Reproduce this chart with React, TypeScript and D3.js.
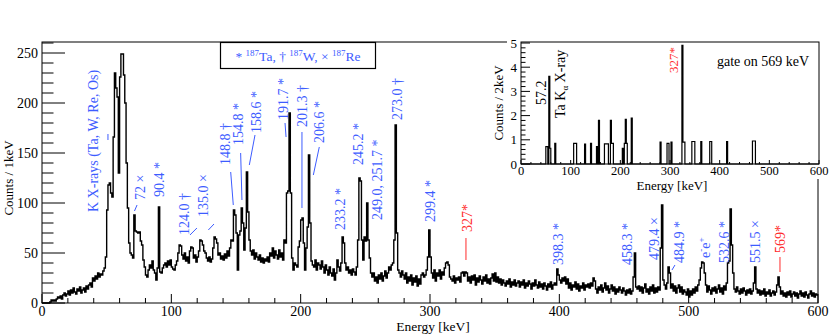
import React, { useEffect, useRef } from "react";
import * as d3 from "d3";

// singles spectrum, 1 keV bins starting at 0 keV
const counts: number[] = [
  // 0
  0, 0, 0, 0, 0, 0, 1, 3, 2, 3,
  2, 4, 6, 5, 7, 4, 8, 10, 7, 9,
  12, 8, 13, 10, 15, 11, 9, 14, 12, 16,
  10, 13, 15, 11, 17, 14, 18, 20, 16, 25,
  22, 27, 24, 30, 26, 29, 28, 32, 35, 46,
  // 50
  93, 118, 120, 110, 106, 166, 230, 215, 206, 130,
  226, 249, 249, 228, 200, 140, 95, 60, 50, 48,
  45, 88, 72, 71, 70, 71, 62, 58, 43, 36,
  28, 26, 33, 38, 35, 42, 33, 30, 23, 35,
  96, 31, 30, 35, 38, 40, 36, 42, 38, 43,
  // 100
  36, 34, 33, 38, 42, 50, 58, 57, 48, 44,
  50, 42, 46, 40, 52, 56, 55, 45, 48, 41,
  46, 52, 63, 62, 58, 52, 50, 45, 42, 46,
  41, 44, 55, 66, 64, 60, 48, 50, 44, 47,
  43, 49, 45, 52, 47, 55, 63, 62, 93, 88,
  // 150
  70, 33, 68, 72, 95, 80, 53, 75, 131, 91,
  63, 52, 48, 53, 44, 50, 46, 43, 48, 41,
  45, 40, 44, 42, 46, 41, 50, 47, 55, 45,
  52, 48, 44, 53, 46, 50, 43, 63, 60, 110,
  112, 190, 110, 45, 33, 40, 38, 36, 56, 62,
  // 200
  83, 85, 60, 33, 55, 76, 148, 80, 42, 38,
  36, 43, 33, 40, 38, 34, 42, 36, 30, 38,
  33, 28, 36, 30, 27, 34, 23, 30, 43, 36,
  32, 40, 66, 60, 40, 33, 36, 30, 33, 28,
  34, 31, 28, 36, 63, 125, 122, 63, 43, 66,
  // 250
  62, 100, 63, 45, 30, 26, 30, 22, 26, 20,
  28, 24, 30, 22, 27, 32, 25, 30, 36, 33,
  38, 40, 63, 178, 70, 33, 30, 26, 32, 28,
  24, 30, 20, 26, 22, 28, 18, 25, 21, 27,
  17, 24, 19, 28, 30, 26, 28, 33, 46, 73,
  // 300
  46, 30, 25, 33, 22, 30, 27, 33, 24, 31,
  28, 35, 40, 41, 38, 26, 24, 22, 27, 20,
  25, 23, 26, 21, 30, 31, 27, 31, 30, 22,
  26, 20, 27, 23, 28, 18, 25, 21, 27, 23,
  19, 26, 22, 28, 20, 24, 19, 25, 29, 22,
  // 350
  30, 21, 26, 20, 24, 18, 23, 20, 17, 22,
  19, 24, 16, 21, 18, 23, 17, 20, 22, 16,
  21, 18, 23, 15, 20, 17, 22, 19, 14, 20,
  17, 23, 18, 15, 21, 16, 19, 14, 20, 17,
  13, 19, 16, 21, 14, 18, 20, 18, 34, 28,
  // 400
  23, 20, 25, 22, 26, 19, 24, 15, 20, 13,
  18, 16, 21, 14, 19, 12, 17, 15, 20, 13,
  18, 16, 19, 15, 20, 17, 25, 22, 14, 10,
  16, 13, 18, 11, 15, 20, 13, 17, 10, 14,
  18, 12, 16, 9, 14, 11, 16, 13, 10, 15,
  // 450
  12, 8, 13, 10, 14, 9, 12, 26, 50, 16,
  14, 17, 12, 16, 10, 15, 19, 11, 14, 9,
  16, 12, 18, 10, 15, 11, 16, 13, 55, 98,
  23, 18, 14, 20, 36, 30, 15, 19, 12, 17,
  10, 15, 18, 11, 16, 9, 13, 11, 8, 14,
  // 500
  6, 12, 8, 14, 10, 16, 12, 18, 23, 35,
  41, 40, 30, 18, 11, 17, 13, 9, 15, 12,
  16, 10, 14, 18, 11, 15, 9, 17, 13, 20,
  40, 42, 94, 58, 30, 14, 11, 16, 12, 9,
  14, 10, 15, 12, 8, 13, 10, 14, 9, 12,
  // 550
  20, 36, 14, 10, 13, 8, 12, 9, 14, 7,
  11, 9, 13, 7, 10, 12, 8, 11, 18, 26,
  16, 9, 12, 7, 10, 6, 11, 8, 12, 6,
  9, 11, 7, 10, 5, 9, 12, 7, 10, 6,
  11, 8, 5, 9, 12, 7, 10, 6, 9, 8,
];

// gated spectrum (gate on 569 keV), 2 keV bins, non-empty bins only
const gateBins = [
  50, 52, 56, 58, 68, 106, 108, 110, 128, 140, 152, 156, 168, 170, 172, 174,
  180, 182, 184, 204, 208, 210, 212, 222, 280, 294, 296, 302, 324, 326, 328,
  344, 346, 348, 362, 380, 382, 414, 466, 468, 470,
];
const gateValues = [
  0.72, 0.72, 3.62, 0.65, 0.85, 0.85, 0.85, 0.85, 0.82, 0.85, 0.72, 1.8, 0.83,
  0.83, 0.83, 0.83, 1.8, 0.85, 0.85, 0.65, 0.85, 1.85, 0.85, 1.9, 0.9, 0.85,
  0.85, 0.9, 4.9, 0.9, 0.9, 0.93, 0.93, 0.93, 0.93, 0.93, 0.93, 0.93, 0.95,
  0.95, 0.95,
];

const energyTicks = [0, 100, 200, 300, 400, 500, 600];
const countTicks = [0, 50, 100, 150, 200, 250];
const gateTicks = [0, 1, 2, 3, 4, 5];

const BLUE = "#3d5cff";
const RED = "#ff2b2b";
const FONT = "'Liberation Serif', 'Times New Roman', serif";

// peak labels: e = keV, c = counts at the lower end of the rotated text
const peakLabels = [
  { t: "K X-rays (Ta, W, Re, Os)", e: 39.4, c: 91, col: BLUE },
  { t: "72 ×", e: 75.8, c: 103, col: BLUE },
  { t: "90.4 *", e: 90.5, c: 106, col: BLUE },
  { t: "124.0 †", e: 109.8, c: 68, col: BLUE },
  { t: "135.0 ×", e: 124.5, c: 86, col: BLUE },
  { t: "148.8 †", e: 141.9, c: 138, col: BLUE },
  { t: "154.8 *", e: 151.9, c: 158, col: BLUE },
  { t: "158.6 *", e: 165.5, c: 170, col: BLUE },
  { t: "191.7 *", e: 186.3, c: 183, col: BLUE },
  { t: "201.3 †", e: 201.4, c: 176, col: BLUE },
  { t: "206.6 *", e: 214.2, c: 160, col: BLUE },
  { t: "233.2 *", e: 230.8, c: 73, col: BLUE },
  { t: "245.2 *", e: 244.7, c: 138, col: BLUE },
  { t: "249.0, 251.7 *", e: 259, c: 83, col: BLUE },
  { t: "273.0 †", e: 274.5, c: 183, col: BLUE },
  { t: "299.4 *", e: 300, c: 81, col: BLUE },
  { t: "327*", e: 328.6, c: 71, col: RED },
  { t: "398.3 *", e: 399, c: 38, col: BLUE },
  { t: "458.3 *", e: 453, c: 38, col: BLUE },
  { t: "479.4 ×", e: 473.2, c: 43, col: BLUE },
  { t: "484.9 *", e: 492.5, c: 40, col: BLUE },
  { t: "532.6 *", e: 527.3, c: 40, col: BLUE },
  { t: "551.5 ×", e: 551.3, c: 40, col: BLUE },
  { t: "569*", e: 570.6, c: 50, col: RED },
];

const leaders = [
  { e1: 51.0, c1: 169, e2: 51.0, c2: 163, col: BLUE },
  { e1: 71.5, c1: 92, e2: 73.5, c2: 98, col: BLUE },
  { e1: 114.4, c1: 68, e2: 119.8, c2: 75, col: BLUE },
  { e1: 128.6, c1: 73, e2: 133, c2: 79, col: BLUE },
  { e1: 145.9, c1: 131, e2: 147.9, c2: 98, col: BLUE },
  { e1: 153.6, c1: 150, e2: 154.6, c2: 103, col: BLUE },
  { e1: 164.7, c1: 168, e2: 160.3, c2: 138, col: BLUE },
  { e1: 187.9, c1: 180, e2: 188.7, c2: 166, col: BLUE },
  { e1: 201, c1: 171, e2: 201, c2: 95, col: BLUE },
  { e1: 214.4, c1: 156, e2: 209.8, c2: 128, col: BLUE },
  { e1: 327.8, c1: 65, e2: 327.8, c2: 43, col: RED },
  { e1: 487.1, c1: 33, e2: 489.4, c2: 38, col: BLUE },
  { e1: 570.6, c1: 46, e2: 570.6, c2: 31, col: RED },
];

export default function App() {
  const ref = useRef<SVGSVGElement>(null);

  useEffect(() => {
    const svg = d3.select(ref.current);
    svg.selectAll("*").remove();
    svg.style("font-family", FONT);

    const x = d3.scaleLinear().domain([0, 600]).range([42, 818]);
    const y = d3.scaleLinear().domain([0, 261]).range([303, 42]);

    const g = svg.append("g");

    // histogram
    const pts: [number, number][] = counts.map((c, i) => [i, c]);
    pts.push([600, counts[counts.length - 1]]);
    const line = d3
      .line<[number, number]>()
      .x((d) => x(d[0]))
      .y((d) => y(d[1]))
      .curve(d3.curveStepAfter);
    g.append("path")
      .attr("d", line(pts))
      .attr("fill", "none")
      .attr("stroke", "#000")
      .attr("stroke-width", 1.4);

    // frame
    g.append("rect")
      .attr("x", x(0))
      .attr("y", y(261))
      .attr("width", x(600) - x(0))
      .attr("height", y(0) - y(261))
      .attr("fill", "none")
      .attr("stroke", "#000");

    // y ticks
    d3.range(0, 261, 10).forEach((v) => {
      const major = v % 50 === 0;
      g.append("line")
        .attr("x1", x(0))
        .attr("x2", x(0) + (major ? 23 : 11.5))
        .attr("y1", y(v))
        .attr("y2", y(v))
        .attr("stroke", "#000");
    });
    countTicks.forEach((v) => {
      g.append("text")
        .attr("x", x(0) - 4)
        .attr("y", y(v) + 5)
        .attr("text-anchor", "end")
        .attr("font-size", 14)
        .text(v);
    });

    // x ticks
    d3.range(0, 601, 20).forEach((v) => {
      const major = v % 100 === 0;
      g.append("line")
        .attr("x1", x(v))
        .attr("x2", x(v))
        .attr("y1", y(0))
        .attr("y2", y(0) - (major ? 9 : 5))
        .attr("stroke", "#000");
    });
    energyTicks.forEach((v) => {
      g.append("text")
        .attr("x", x(v))
        .attr("y", 316)
        .attr("text-anchor", "middle")
        .attr("font-size", 14)
        .text(v);
    });

    g.append("text")
      .attr("x", 433)
      .attr("y", 331)
      .attr("text-anchor", "middle")
      .attr("font-size", 13.5)
      .text("Energy [keV]");
    g.append("text")
      .attr("transform", "translate(13,178) rotate(-90)")
      .attr("text-anchor", "middle")
      .attr("font-size", 13)
      .text("Counts / 1keV");

    // peak labels
    peakLabels.forEach((p) => {
      g.append("text")
        .attr("transform", `translate(${x(p.e) + 4.6},${y(p.c)}) rotate(-90)`)
        .attr("font-size", 14)
        .attr("fill", p.col)
        .text(p.t);
    });
    // e- e+
    const ee = g
      .append("text")
      .attr("transform", `translate(${x(512.6) + 4.6},${y(45)}) rotate(-90)`)
      .attr("font-size", 14)
      .attr("fill", BLUE);
    ee.append("tspan").text("e");
    ee.append("tspan").attr("font-size", 9).attr("dy", -6).text("-");
    ee.append("tspan").attr("dy", 6).text("e");
    ee.append("tspan").attr("font-size", 9).attr("dy", -6).text("+");

    leaders.forEach((l) => {
      g.append("line")
        .attr("x1", x(l.e1))
        .attr("y1", y(l.c1))
        .attr("x2", x(l.e2))
        .attr("y2", y(l.c2))
        .attr("stroke", l.col)
        .attr("stroke-width", 1);
    });

    // legend
    g.append("rect")
      .attr("x", 220.5)
      .attr("y", 42.5)
      .attr("width", 155)
      .attr("height", 26)
      .attr("fill", "#fff")
      .attr("stroke", "#000")
      .attr("stroke-width", 1.2);
    const lt = g
      .append("text")
      .attr("x", 298)
      .attr("y", 61)
      .attr("text-anchor", "middle")
      .attr("font-size", 13.5)
      .attr("fill", BLUE);
    const parts: [string, string][] = [
      ["* ", "187"],
      ["Ta, † ", "187"],
      ["W, × ", "187"],
      ["Re", ""],
    ];
    parts.forEach(([a, b], i) => {
      lt.append("tspan").attr("dy", i === 0 ? 0 : 5).text(a);
      if (b) lt.append("tspan").attr("font-size", 9).attr("dy", -5).text(b);
    });

    // ---- inset: gated spectrum ----
    const ix = d3.scaleLinear().domain([0, 600]).range([521, 819]);
    const iy = d3.scaleLinear().domain([0, 5]).range([164, 43]);
    const gi = svg.append("g");
    gi.append("rect")
      .attr("x", 507)
      .attr("y", 0)
      .attr("width", 324)
      .attr("height", 179)
      .attr("fill", "#fff");

    const gateFull: number[] = d3.range(300).map(() => 0);
    gateBins.forEach((b, i) => {
      gateFull[b / 2] = gateValues[i];
    });
    const gpts: [number, number][] = gateFull.map((v, i) => [i * 2, v]);
    gpts.push([600, 0]);
    const gline = d3
      .line<[number, number]>()
      .x((d) => ix(d[0]))
      .y((d) => iy(d[1]))
      .curve(d3.curveStepAfter);
    gi.append("path")
      .attr("d", gline(gpts))
      .attr("fill", "none")
      .attr("stroke", "#000")
      .attr("stroke-width", 1.2);

    gi.append("rect")
      .attr("x", ix(0))
      .attr("y", 42)
      .attr("width", ix(600) - ix(0))
      .attr("height", iy(0) - 42)
      .attr("fill", "none")
      .attr("stroke", "#000");

    d3.range(0, 5.01, 0.2).forEach((v) => {
      const major = Math.abs(v - Math.round(v)) < 1e-6;
      gi.append("line")
        .attr("x1", ix(0))
        .attr("x2", ix(0) + (major ? 9 : 4.5))
        .attr("y1", iy(v))
        .attr("y2", iy(v))
        .attr("stroke", "#000");
    });
    gateTicks.forEach((v) => {
      gi.append("text")
        .attr("x", ix(0) - 4)
        .attr("y", iy(v) + 4.5)
        .attr("text-anchor", "end")
        .attr("font-size", 13)
        .text(v);
    });
    d3.range(0, 601, 20).forEach((v) => {
      const major = v % 100 === 0;
      gi.append("line")
        .attr("x1", ix(v))
        .attr("x2", ix(v))
        .attr("y1", iy(0))
        .attr("y2", iy(0) - (major ? 4 : 2))
        .attr("stroke", "#000");
    });
    energyTicks.forEach((v) => {
      gi.append("text")
        .attr("x", ix(v))
        .attr("y", 175)
        .attr("text-anchor", "middle")
        .attr("font-size", 12.5)
        .text(v);
    });
    gi.append("text")
      .attr("x", 672)
      .attr("y", 190)
      .attr("text-anchor", "middle")
      .attr("font-size", 13)
      .text("Energy [keV]");
    gi.append("text")
      .attr("transform", "translate(503,103) rotate(-90)")
      .attr("text-anchor", "middle")
      .attr("font-size", 13)
      .text("Counts / 2keV");

    gi.append("text")
      .attr("transform", `translate(${ix(41.3) + 4.6},${iy(2.44)}) rotate(-90)`)
      .attr("font-size", 14)
      .text("57.2");
    const ka = gi
      .append("text")
      .attr("transform", `translate(${ix(78.5) + 4.6},${iy(1.9)}) rotate(-90)`)
      .attr("font-size", 14);
    ka.append("tspan").text("Ta K");
    ka.append("tspan").attr("font-size", 9).attr("dy", 3).text("α");
    ka.append("tspan").attr("dy", -3).text(" X-ray");
    gi.append("text")
      .attr("transform", `translate(${ix(308) + 4.4},${iy(3.76)}) rotate(-90)`)
      .attr("font-size", 13)
      .attr("fill", RED)
      .text("327*");
    gi.append("text")
      .attr("x", ix(394.6))
      .attr("y", iy(4.05))
      .attr("font-size", 14)
      .text("gate on 569 keV");
  }, []);

  return (
    <svg
      ref={ref}
      width={831}
      height={334}
      style={{ position: "absolute", left: 0, top: 0, background: "#fff" }}
    />
  );
}
